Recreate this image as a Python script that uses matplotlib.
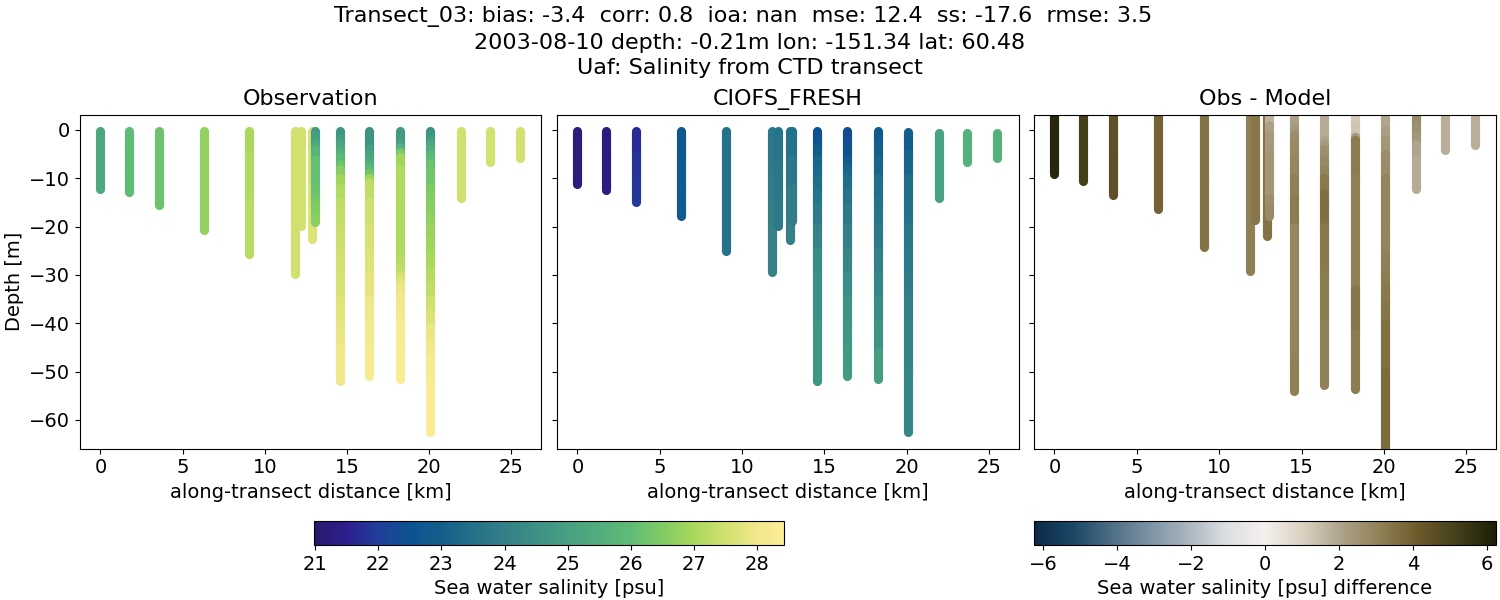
from matplotlib import pyplot as plt
from matplotlib.colors import LinearSegmentedColormap, Normalize
from matplotlib.cm import ScalarMappable

# along-transect position of each cast, km
dist_km = [0.0, 1.73, 3.54, 6.3, 9.05, 11.85, 12.2, 12.9, 13.05, 14.55, 16.35, 18.25, 20.07, 21.95, 23.7, 25.5]

obs_depth = [
    [-0.2, -3, -6, -9, -12.2],
    [-0.2, -4, -8, -12.8],
    [-0.2, -5, -10, -15.6],
    [-0.2, -10, -20.7],
    [-0.2, -5, -15, -25.7],
    [-0.2, -10, -20, -29.8],
    [-0.2, -10, -19.8],
    [-0.2, -12, -22.6],
    [-0.2, -1, -2, -3, -4, -6, -12, -14, -15, -16, -17, -18, -19],
    [-0.2, -1.5, -2.5, -3.5, -4.5, -5.5, -7, -8, -10, -12, -15, -20, -25, -30, -35, -40, -45, -52],
    [-0.2, -3, -4, -5, -6, -7, -8, -9, -10, -11, -15, -20, -25, -30, -35, -40, -45, -50.8],
    [-0.2, -2.5, -3.5, -4.5, -5.5, -8, -15, -25, -27, -28.5, -30, -31, -32, -34, -37, -40, -45, -51.6],
    [-0.2, -1, -2, -3, -4, -5, -6, -7, -9, -12, -15, -18, -20, -23, -26, -29, -32, -35, -38, -41, -44, -47, -52, -62.5],
    [-0.2, -7, -14.1],
    [-0.2, -3, -6.7],
    [-0.2, -3, -5.7],
]
obs_salt = [
    [25.2, 25.3, 25.3, 25.3, 25.4],
    [26.0, 26.0, 26.0, 26.0],
    [26.2, 26.2, 26.2, 26.2],
    [26.7, 26.7, 26.7],
    [27.0, 27.1, 27.2, 27.3],
    [27.5, 27.5, 27.5, 27.5],
    [27.55, 27.55, 27.55],
    [27.6, 27.7, 27.7],
    [24.8, 24.9, 25.0, 25.3, 25.7, 26.1, 26.2, 26.3, 26.4, 26.5, 26.5, 26.6, 26.7],
    [24.7, 24.8, 25.0, 25.3, 25.6, 25.9, 26.2, 26.6, 26.9, 27.1, 27.3, 27.4, 27.5, 27.6, 27.75, 27.85, 28.0, 28.1],
    [24.6, 24.7, 24.9, 25.1, 25.3, 25.6, 25.9, 26.3, 26.9, 27.3, 27.5, 27.6, 27.7, 27.8, 28.0, 28.1, 28.2, 28.35],
    [24.8, 24.9, 25.6, 26.4, 26.9, 27.1, 27.05, 27.1, 27.2, 27.3, 27.5, 27.7, 27.9, 28.0, 28.1, 28.25, 28.3, 28.3],
    [24.6, 24.7, 24.9, 25.2, 25.5, 25.8, 26.0, 26.2, 26.3, 26.5, 26.6, 26.7, 26.8, 26.9, 27.0, 27.15, 27.3, 27.5, 27.7, 27.9, 28.0, 28.2, 28.3, 28.4],
    [27.5, 27.5, 27.5],
    [27.55, 27.55, 27.55],
    [27.55, 27.55, 27.55],
]

model_depth = [
    [-0.2, -6, -11.2],
    [-0.2, -6, -12.4],
    [-0.2, -5, -10, -15],
    [-0.2, -6, -12, -17.7],
    [-0.2, -12, -25],
    [-0.2, -5, -10, -15, -20, -25, -29.4],
    [-0.2, -7, -14, -19.8],
    [-0.2, -6, -12, -18, -22.7],
    [-0.2, -6, -12, -18.8],
    [-0.2, -2, -4, -6, -8, -10, -13, -16, -20, -25, -30, -40, -52],
    [-0.2, -2, -4, -6, -8, -10, -13, -16, -20, -25, -30, -35, -40, -45, -50.8],
    [-0.2, -3, -6, -10, -15, -20, -25, -30, -35, -40, -46, -51.6],
    [-0.4, -5, -10, -15, -20, -25, -30, -35, -40, -50, -62.5],
    [-0.6, -7, -14.1],
    [-0.7, -3, -6.7],
    [-0.7, -3, -5.7],
]
model_salt = [
    [21.2, 21.2, 21.2],
    [21.3, 21.3, 21.3],
    [21.7, 21.8, 21.9, 22.1],
    [22.7, 22.8, 22.8, 22.9],
    [23.5, 23.5, 23.5],
    [23.7, 23.8, 23.9, 24.0, 24.1, 24.1, 24.2],
    [23.6, 23.7, 23.8, 23.9],
    [23.6, 23.8, 23.9, 24.0, 24.2],
    [23.5, 23.7, 23.9, 24.0],
    [22.4, 22.6, 22.9, 23.2, 23.3, 23.4, 23.6, 23.8, 24.1, 24.4, 24.5, 24.7, 24.8],
    [22.3, 22.4, 22.6, 22.9, 23.2, 23.4, 23.6, 23.8, 24.0, 24.2, 24.4, 24.6, 24.7, 24.8, 25.0],
    [22.8, 23.0, 23.2, 23.4, 23.6, 23.8, 24.0, 24.2, 24.4, 24.6, 24.9, 25.1],
    [23.0, 23.2, 23.4, 23.5, 23.7, 23.8, 23.9, 24.0, 24.1, 24.2, 24.4],
    [25.0, 25.0, 25.0],
    [25.6, 25.6, 25.6],
    [25.6, 25.6, 25.6],
]

diff_depth = [
    [4, -3, -9.2],
    [4, -3, -10.6],
    [4, -5, -13.5],
    [4, -6, -16.4],
    [4, -10, -24.3],
    [4, -12, -29.2],
    [4, -8, -18.6],
    [4, -10, -21.9],
    [4, 1, -1, -5, -10, -14, -15, -16, -17.7],
    [4, 1, 0, -1, -3, -6, -10, -14, -20, -30, -40, -48, -54.1],
    [4, -1, -2, -3, -4, -6, -8, -10, -13, -16, -20, -30, -40, -52.8],
    [4, 1, -1, -1.5, -2, -3, -10, -20, -30, -33, -36, -42, -53.6],
    [4, 0, -2, -5, -10, -20, -26, -30, -33, -36, -40, -50, -66, -70],
    [4, 1, -1, -3, -6, -12.3],
    [4, -4.2],
    [4, -3.1],
]
diff_val = [
    [5.9, 5.9, 5.9],
    [5.2, 5.2, 5.2],
    [4.5, 4.5, 4.5],
    [3.9, 3.9, 3.9],
    [3.5, 3.5, 3.5],
    [3.1, 3.1, 3.1],
    [3.4, 3.4, 3.4],
    [3.5, 3.5, 3.5],
    [1.7, 2.1, 2.3, 2.4, 2.4, 2.6, 2.6, 2.8, 2.8],
    [2.1, 2.2, 2.4, 2.7, 2.8, 2.9, 3.1, 3.2, 2.9, 2.9, 3.0, 3.1, 3.2],
    [1.9, 1.9, 2.0, 2.3, 2.6, 2.8, 3.0, 3.3, 3.6, 3.6, 3.3, 3.2, 3.1, 2.9],
    [1.2, 1.3, 1.4, 2.4, 3.3, 3.2, 3.1, 3.1, 3.1, 3.4, 3.4, 3.2, 3.1],
    [2.0, 2.2, 2.4, 2.7, 3.0, 3.0, 3.1, 3.2, 3.3, 3.4, 3.6, 3.7, 3.7, 3.7],
    [2.8, 2.6, 2.4, 2.0, 1.9, 1.8],
    [1.8, 1.7],
    [1.8, 1.8],
]

haline_levels = [21, 21.5, 22, 22.5, 23, 23.5, 24, 24.5, 25, 25.5, 26, 26.5, 27, 27.5, 28, 28.43]
haline_colors = ['#2a186c', '#2f1f90', '#1f3f9a', '#0d5290', '#135f8b', '#23718a', '#347f88', '#3c9085',
                 '#47a182', '#52ad7d', '#5fbb76', '#80cb64', '#a8d85c', '#cfe06e', '#f0e78a', '#fdee99']
diff_colors = ['#0b2a48', '#1a4766', '#4d6e86', '#7c92a3', '#aab5bf', '#dcdfe2', '#f5f0ee',
               '#d9d0c0', '#ada28a', '#8f8055', '#6d5a2a', '#433f1a', '#1e1e08']
salt_norm = Normalize(20.98, 28.43)
diff_norm = Normalize(-6.24, 6.24)
haline_stops = [0] + [float(salt_norm(v)) for v in haline_levels[1:-1]] + [1]
haline = LinearSegmentedColormap.from_list('haline', list(zip(haline_stops, haline_colors)))
diff = LinearSegmentedColormap.from_list('diff', diff_colors)


def draw_casts(ax, depths, values, cmap, norm):
    for x, z, v in zip(dist_km, depths, values):
        for i in range(len(z) - 1):
            ax.plot([x, x], [z[i], z[i + 1]], color=cmap(norm(v[i])), lw=6.6, solid_capstyle='round')


plt.rcParams['font.size'] = 14
fig = plt.figure(figsize=(15, 6), dpi=100)


def px_axes(left, right, top, bottom):
    return fig.add_axes([left / 1500, 1 - bottom / 600, (right - left) / 1500, (bottom - top) / 600])


ax1 = px_axes(80, 541, 115, 448.5)
ax2 = px_axes(557, 1018.5, 115, 448.5)
ax3 = px_axes(1034, 1496, 115, 448.5)

draw_casts(ax1, obs_depth, obs_salt, haline, salt_norm)
draw_casts(ax2, model_depth, model_salt, haline, salt_norm)
draw_casts(ax3, diff_depth, diff_val, diff, diff_norm)

for ax, name in zip([ax1, ax2, ax3], ['Observation', 'CIOFS_FRESH', 'Obs - Model']):
    ax.set_title(name, fontsize=16, pad=7)
    ax.set_xlim(-1.24, 26.8)
    ax.set_ylim(-65.9, 3.1)
    ax.set_xticks([0, 5, 10, 15, 20, 25])
    ax.set_yticks([-60, -50, -40, -30, -20, -10, 0])
    ax.set_xlabel('along-transect distance [km]')
ax1.set_ylabel('Depth [m]')
ax2.tick_params(labelleft=False)
ax3.tick_params(labelleft=False)

cax1 = px_axes(314, 784, 521, 545)
cb1 = fig.colorbar(ScalarMappable(salt_norm, haline), cax=cax1, orientation='horizontal')
cb1.set_ticks([21, 22, 23, 24, 25, 26, 27, 28])
cb1.set_label('Sea water salinity [psu]')

cax2 = px_axes(1034, 1496, 521, 545)
cb2 = fig.colorbar(ScalarMappable(diff_norm, diff), cax=cax2, orientation='horizontal')
cb2.set_ticks([-6, -4, -2, 0, 2, 4, 6])
cb2.set_label('Sea water salinity [psu] difference')

fig.text(0.5, 0.99,
         'Transect_03: bias: -3.4  corr: 0.8  ioa: nan  mse: 12.4  ss: -17.6  rmse: 3.5  \n'
         '2003-08-10 depth: -0.21m lon: -151.34 lat: 60.48\n'
         'Uaf: Salinity from CTD transect',
         ha='center', va='top', fontsize=16, linespacing=1.35)

fig.savefig('out.png', dpi=100)
